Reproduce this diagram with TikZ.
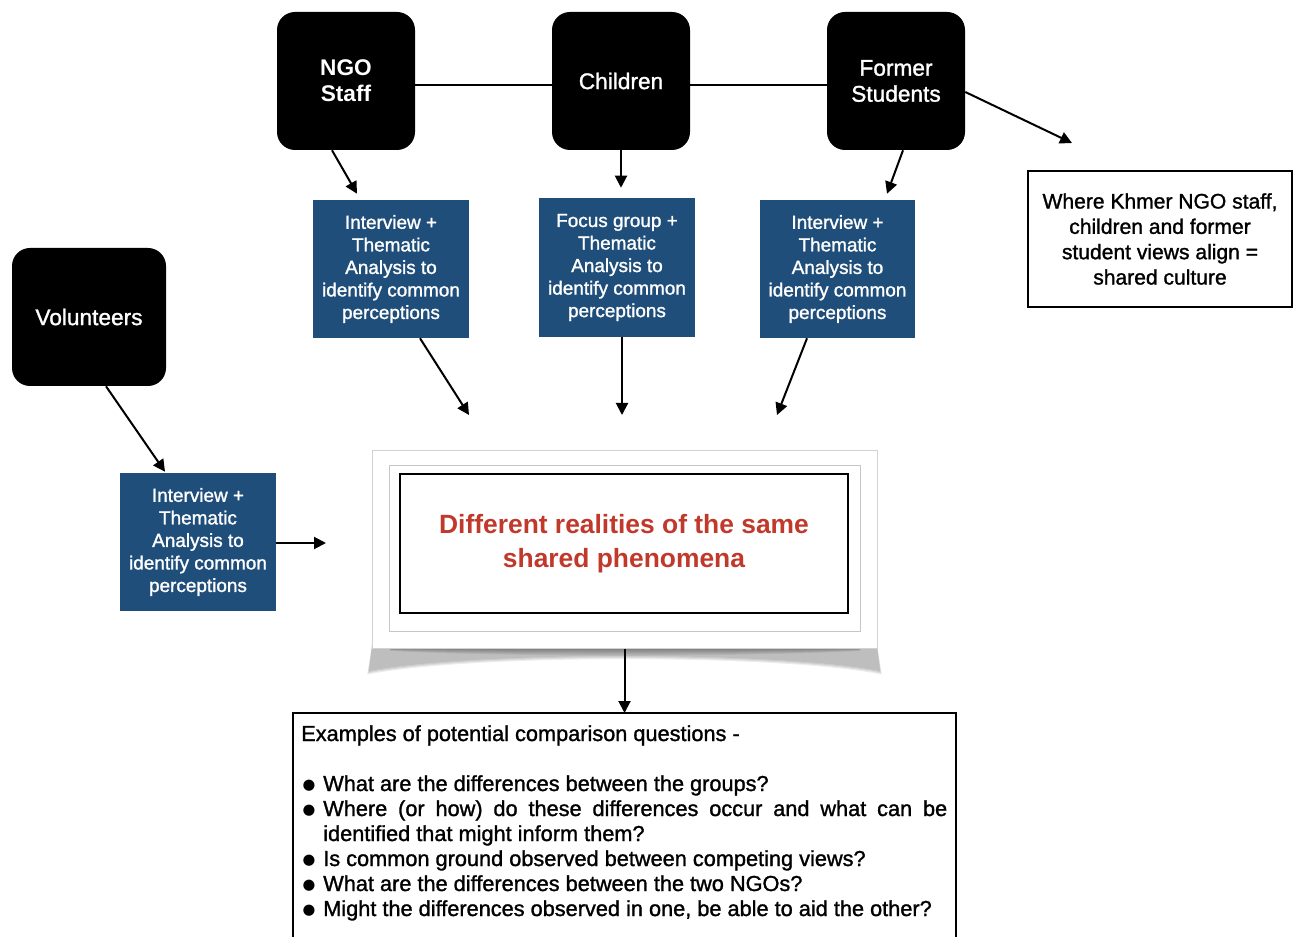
\documentclass[tikz,border=0pt]{standalone}
\usepackage{fontspec}
\setmainfont{Liberation Sans}
\newfontfamily\medfont[FakeBold=1.3]{Liberation Sans}
\newfontfamily\dejavu{DejaVu Sans}
\usetikzlibrary{calc,arrows.meta}
\definecolor{boxblue}{RGB}{31,78,122}
\definecolor{realred}{RGB}{192,57,43}
\newcommand\qbul{\par\hangindent=16.5pt\hangafter=1\noindent\makebox[16.5pt][l]{\hspace{1pt}\raisebox{1.2pt}{\dejavu\fontsize{11}{11}\selectfont ●}}}
\begin{document}
\begin{tikzpicture}[x=0.75pt,y=-0.75pt,
  grp/.style={fill=black, rounded corners=13.5pt, text=white, align=center,
    font=\medfont\fontsize{17}{19.5}\selectfont, minimum width=103.5pt, minimum height=103.5pt, inner sep=0pt},
  meth/.style={fill=boxblue, text=white, align=center,
    font=\medfont\fontsize{14.2}{16.9}\selectfont, minimum width=117pt, minimum height=103.5pt, inner sep=0pt},
  arr/.style={line width=1.5pt, -{Triangle[length=9pt,width=9pt]}},
  conn/.style={line width=1.5pt}]
\useasboundingbox (0,0) rectangle (1298,937);

% group boxes
\node[grp, font=\bfseries\fontsize{17}{19.5}\selectfont] (ngo) at (346,81) {NGO\\Staff};
\node[grp] (chi) at (621,81) {Children};
\node[grp] (for) at (896,81) {Former\\Students};
\node[grp, minimum width=115.5pt] (vol) at (89,317) {Volunteers};

% method boxes
\node[meth] (bngo) at (391,269) {Interview +\\Thematic\\Analysis to\\identify common\\perceptions};
\node[meth, minimum height=104.25pt] (bfoc) at (617,267.5) {Focus group +\\Thematic\\Analysis to\\identify common\\perceptions};
\node[meth, minimum width=116.25pt] (bfor) at (837.5,269) {Interview +\\Thematic\\Analysis to\\identify common\\perceptions};
\node[meth] (bvol) at (198,542) {Interview +\\Thematic\\Analysis to\\identify common\\perceptions};

% shared culture box
\node[draw, line width=1.5pt, minimum width=198pt, minimum height=102pt, align=center,
  font=\medfont\fontsize{15.8}{19}\selectfont, inner sep=0pt] (align) at (1160,239)
  {Where Khmer NGO staff,\\children and former\\student views align =\\shared culture};

% curled shadow under central panel
\foreach \i in {0,...,3}{
  \fill[black, opacity=0.07] (372,645) -- (877,645)
    -- ({880+0.6*\i},{671+1.2*\i}) .. controls (780,{651+\i}) and (470,{651+\i}) .. ({369-0.6*\i},{671+1.2*\i}) -- cycle;
}
\foreach \i in {1,...,7}{
  \fill[black, opacity=0.06] (390,645) -- (860,645) -- (860,{648+0.4*\i})
    .. controls (760,{648+1.3*\i}) and (490,{648+1.3*\i}) .. (390,{648+0.4*\i}) -- cycle;
}
% central panel
\node[fill=white, draw=gray!35, line width=0.75pt, minimum width=378.75pt, minimum height=148.5pt, inner sep=0pt] (panel) at (624.5,549) {};
\node[draw=gray!45, line width=0.6pt, minimum width=353.25pt, minimum height=124.5pt, inner sep=0pt] (inner) at (624.5,548) {};
\node[draw, line width=1.9pt, minimum width=336pt, minimum height=104.25pt, inner sep=0pt, align=center,
  text=realred, font=\bfseries\fontsize{19.8}{25.5}\selectfont] (real) at (624,543.5)
  {Different realities of the same\\shared phenomena};

% questions box
\node[anchor=north west, inner xsep=6pt, inner ysep=9pt, text width=484.5pt, align=justify,
  font=\medfont\fontsize{16.3}{18.75}\selectfont] (q) at (293,713)
  {\hyphenpenalty=10000\exhyphenpenalty=10000\noindent Examples of potential comparison questions -\par\vspace{18.75pt}%
   \qbul What are the differences between the groups?%
   \qbul Where (or how) do these differences occur and what can be identified that might inform them?%
   \qbul Is common ground observed between competing views?%
   \qbul What are the differences between the two NGOs?%
   \qbul Might the differences observed in one, be able to aid the other?\par};
\draw[conn] ($(q.north west)+(0,260)$) -- (q.north west) -- (q.north east) -- ($(q.north east)+(0,260)$);

% free ends
\coordinate (e1) at (469,415);
\coordinate (e2) at (622,415);
\coordinate (e3) at (777,415);
\coordinate (e4) at (326,543);
\coordinate (e5) at (1072,143);

% connectors
\draw[conn] ($(ngo.east)+(0,4)$) -- ($(chi.west)+(0,4)$);
\draw[conn] ($(chi.east)+(0,4)$) -- ($(for.west)+(0,4)$);
\draw[arr] ($(ngo.south)+(-14,0)$) -- ($(bngo.north)+(-34,-6)$);
\draw[arr] (chi.south) -- ($(bfoc.north)+(4,-10)$);
\draw[arr] ($(for.south)+(7,0)$) -- ($(bfor.north)+(49.5,-6)$);
\draw[arr] ($(for.east)+(0,11)$) -- (e5);
\draw[arr] ($(bngo.south)+(29,0)$) -- (e1);
\draw[arr] ($(bfoc.south)+(5,0)$) -- (e2);
\draw[arr] ($(bfor.south)+(-30.5,0)$) -- (e3);
\draw[arr] ($(vol.south)+(17,0)$) -- ($(bvol.north)+(-33,-1)$);
\draw[arr] ($(bvol.east)+(0,1)$) -- (e4);
\draw[arr] (panel.south) -- (panel.south |- q.north);
\end{tikzpicture}
\end{document}
